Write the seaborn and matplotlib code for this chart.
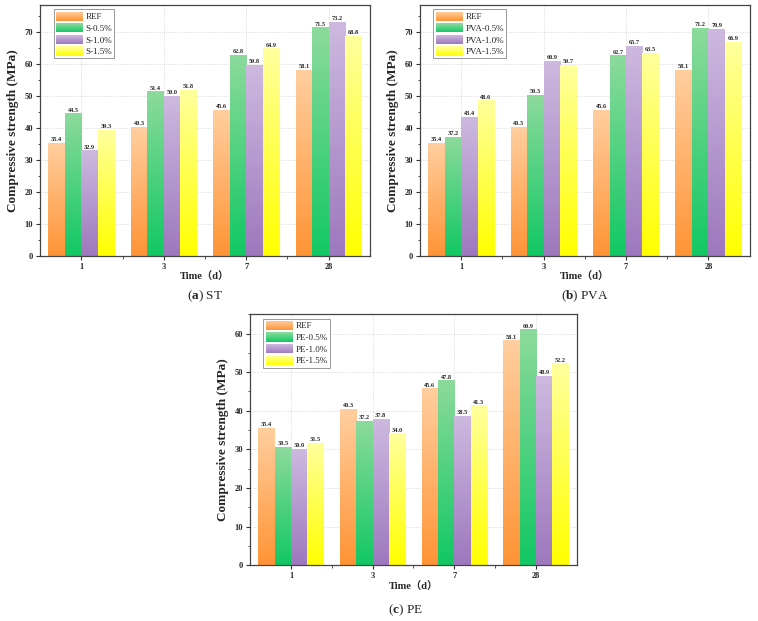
import numpy as np
import pandas as pd
import matplotlib
matplotlib.use("Agg")
import matplotlib.pyplot as plt
import seaborn as sns
from matplotlib.patches import Patch, Rectangle
from matplotlib.legend_handler import HandlerBase
from matplotlib.ticker import MultipleLocator, FixedLocator

# data
times = ["1", "3", "7", "28"]
ref = [35.4, 40.3, 45.6, 58.1]

st_names = ["REF", "S-0.5%", "S-1.0%", "S-1.5%"]
st_05 = [44.5, 51.4, 62.8, 71.5]
st_10 = [32.9, 50.0, 59.8, 73.2]
st_15 = [39.3, 51.8, 64.9, 68.8]

pva_names = ["REF", "PVA-0.5%", "PVA-1.0%", "PVA-1.5%"]
pva_05 = [37.2, 50.3, 62.7, 71.2]
pva_10 = [43.4, 60.9, 65.7, 70.9]
pva_15 = [48.6, 59.7, 63.5, 66.9]

pe_names = ["REF", "PE-0.5%", "PE-1.0%", "PE-1.5%"]
pe_05 = [30.5, 37.2, 47.8, 60.9]
pe_10 = [30.0, 37.8, 38.5, 48.9]
pe_15 = [31.5, 34.0, 41.3, 52.2]

captions = ["($\\mathbf{a}$) ST", "($\\mathbf{b}$) PVA", "($\\mathbf{c}$) PE"]

# gradient colours: (top, bottom)
grads = [
    ("#FFCE9E", "#FF9436"),
    ("#8CDA9C", "#12C864"),
    ("#CDB9DF", "#9E78BE"),
    ("#FFFF9C", "#FFFF00"),
]

sns.set_theme(style="ticks")
plt.rcParams["font.family"] = ["Liberation Serif", "Noto Sans CJK SC"]
plt.rcParams["mathtext.fontset"] = "custom"
plt.rcParams["mathtext.rm"] = "Liberation Serif"
plt.rcParams["mathtext.bf"] = "Liberation Serif:bold"


def rgb(h):
    return np.array(matplotlib.colors.to_rgb(h))


class GradHandler(HandlerBase):
    def __init__(self, top, bot):
        super().__init__()
        self.top = rgb(top)
        self.bot = rgb(bot)

    def create_artists(self, legend, orig_handle, xdescent, ydescent,
                       width, height, fontsize, trans):
        arts = []
        n = 14
        for i in range(n):
            t = (i + 0.5) / n
            c = self.bot * (1 - t) + self.top * t
            r = Rectangle((-xdescent, -ydescent + height * i / n), width,
                          height / n * 1.05, facecolor=c, edgecolor="none",
                          transform=trans)
            arts.append(r)
        return arts


def panel(ax, names, series, ymax, yticks):
    df = pd.DataFrame({
        "time": times * 4,
        "group": [n for n in names for _ in times],
        "value": [v for s in series for v in s],
    })
    sns.barplot(data=df, x="time", y="value", hue="group", order=times,
                hue_order=names, ax=ax, legend=False, width=0.8,
                saturation=1, errorbar=None)

    t = np.linspace(0, 1, 64)[:, None, None]
    for k, cont in enumerate(ax.containers):
        top, bot = rgb(grads[k][0]), rgb(grads[k][1])
        img = bot * (1 - t) + top * t
        for p in cont.patches:
            x, w, h = p.get_x(), p.get_width(), p.get_height()
            p.set_facecolor("none")
            p.set_edgecolor("none")
            ax.imshow(img, extent=[x, x + w, 0, h], origin="lower",
                      aspect="auto", zorder=2, interpolation="bilinear")
        ax.bar_label(cont, fmt="%.1f", fontsize=4.5, fontweight="bold",
                     padding=0.8, zorder=3)
    ax.set_xlim(-0.5, 3.5)
    ax.set_ylim(0, ymax)

    ax.set_yticks(yticks)
    ax.yaxis.set_minor_locator(MultipleLocator(5))
    ax.xaxis.set_minor_locator(FixedLocator([0.5, 1.5, 2.5]))
    ax.tick_params(axis="both", which="major", labelsize=6, length=3,
                   width=0.8, color="#333333", pad=2)
    ax.tick_params(axis="both", which="minor", length=1.8, width=0.6,
                   color="#333333")
    for lab in ax.get_xticklabels() + ax.get_yticklabels():
        lab.set_fontweight("bold")
    ax.grid(True, which="major", linestyle=":", linewidth=0.6,
            color="#cfcfcf")
    ax.set_axisbelow(True)
    for sp in ax.spines.values():
        sp.set_visible(True)
        sp.set_linewidth(0.9)
        sp.set_color("#444444")

    ax.set_xlabel("Time（d）", fontsize=7.5, fontweight="bold", labelpad=1)
    ax.set_ylabel("Compressive strength (MPa)", fontsize=9.5,
                  fontweight="bold", labelpad=4)

    handles = [Patch(label=n) for n in names]
    hmap = {h: GradHandler(*grads[i]) for i, h in enumerate(handles)}
    leg = ax.legend(handles=handles, handler_map=hmap, loc="upper left",
                    bbox_to_anchor=(0.035, 0.99), fontsize=6.5,
                    frameon=True, fancybox=False, edgecolor="#999999",
                    framealpha=1, labelspacing=0.22, handlelength=3.0,
                    handleheight=1.2, handletextpad=0.3, borderpad=0.25,
                    borderaxespad=0.2)
    leg.get_frame().set_linewidth(0.7)


fig = plt.figure(figsize=(7.58, 6.21), dpi=100)
ax1 = fig.add_axes([0.053, 0.588, 0.435, 0.404])
ax2 = fig.add_axes([0.554, 0.588, 0.435, 0.404])
ax3 = fig.add_axes([0.330, 0.090, 0.431, 0.404])

panel(ax1, st_names, [ref, st_05, st_10, st_15], 78.6, range(0, 71, 10))
panel(ax2, pva_names, [ref, pva_05, pva_10, pva_15], 78.6, range(0, 71, 10))
panel(ax3, pe_names, [ref, pe_05, pe_10, pe_15], 65, range(0, 61, 10))

fig.text(205 / 758, 1 - 296 / 621, captions[0], ha="center", va="center",
         fontsize=9.5)
fig.text(585 / 758, 1 - 296 / 621, captions[1], ha="center", va="center",
         fontsize=9.5)
fig.text(405 / 758, 1 - 610 / 621, captions[2], ha="center", va="center",
         fontsize=9.5)

fig.savefig("out.png", dpi=100)
